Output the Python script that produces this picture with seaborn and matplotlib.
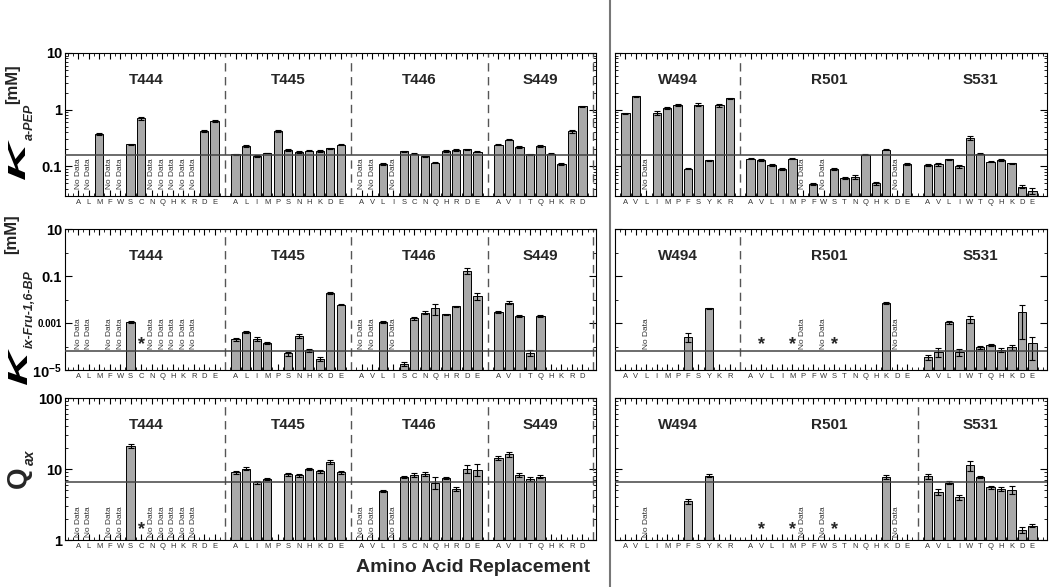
import numpy as np
import pandas as pd
import matplotlib
matplotlib.use("Agg")
import matplotlib.pyplot as plt
import matplotlib.ticker as mticker
import matplotlib.transforms as mtransforms
from matplotlib.lines import Line2D
from matplotlib.textpath import TextPath
from matplotlib.patches import PathPatch
from matplotlib.font_manager import FontProperties
import seaborn as sns

# ── DATA ───────────────────────────────────────────────
left_sites = ["T444", "T445", "T446", "S449"]
right_sites = ["W494", "R501", "S531"]

aa = {
    "T444": list("ALMFWSCNQHKRDE"),
    "T445": list("ALIMPSNHKDE"),
    "T446": list("AVLISCNQHRDE"),
    "S449": list("AVITQHKRD"),
    "W494": list("AVLIMPFSYKR"),
    "R501": list("AVLIMPFWSTNQHKDE"),
    "S531": list("AVLIWTQHKDE"),
}

# Ka-PEP [mM]
ka_val = {
    "T444": [None, None, 0.37, None, None, 0.245, 0.70, None, None, None, None, None, 0.42, 0.63],
    "T445": [0.163, 0.229, 0.152, 0.172, 0.42, 0.194, 0.179, 0.19, 0.184, 0.21, 0.24],
    "T446": [None, None, 0.11, None, 0.184, 0.168, 0.152, 0.116, 0.187, 0.194, 0.20, 0.18],
    "S449": [0.24, 0.297, 0.22, 0.163, 0.226, 0.168, 0.11, 0.417, 1.15],
    "W494": [0.857, 1.73, None, 0.88, 1.08, 1.23, 0.091, 1.23, 0.128, 1.19, 1.58],
    "R501": [0.137, 0.128, 0.105, 0.091, 0.137, None, 0.049, None, 0.09, 0.062, 0.065, 0.16, 0.05, 0.197, None, 0.11],
    "S531": [0.105, 0.108, 0.133, 0.10, 0.316, 0.168, 0.121, 0.128, 0.113, 0.044, 0.037],
}
ka_err = {
    "T444": [0, 0, 0.012, 0, 0, 0.006, 0.05, 0, 0, 0, 0, 0, 0.015, 0.02],
    "T445": [0.005, 0.005, 0.008, 0.003, 0.02, 0.005, 0.005, 0.005, 0.008, 0.005, 0.005],
    "T446": [0, 0, 0.003, 0, 0.005, 0.004, 0.003, 0.003, 0.005, 0.005, 0.005, 0.004],
    "S449": [0.004, 0.01, 0.008, 0.005, 0.008, 0.005, 0.003, 0.03, 0.03],
    "W494": [0.02, 0.04, 0, 0.07, 0.04, 0.05, 0.002, 0.06, 0.003, 0.08, 0.05],
    "R501": [0.003, 0.005, 0.004, 0.003, 0.003, 0, 0.002, 0, 0.003, 0.002, 0.004, 0.003, 0.003, 0.004, 0, 0.003],
    "S531": [0.003, 0.008, 0.004, 0.005, 0.03, 0.005, 0.004, 0.005, 0.003, 0.002, 0.004],
}
# n = "No Data", * = asterisk, . = nothing
ka_note = {
    "T444": "nn.nn..nnnnn..", "T445": "...........", "T446": "nn.n........",
    "S449": ".........", "W494": "..n........", "R501": ".....n.n......n.", "S531": "...........",
}

# Kix-Fru-1,6-BP [mM]
kix_val = {
    "T444": [None, None, None, None, None, 1.07e-3, None, None, None, None, None, None, None, None],
    "T445": [2.1e-4, 4.3e-4, 2.1e-4, 1.45e-4, None, 5.1e-5, 2.8e-4, 6.9e-5, 3.0e-5, 1.9e-2, 5.9e-3],
    "T446": [None, None, 1.15e-3, None, 1.85e-5, 1.6e-3, 2.7e-3, 4.3e-3, 2.3e-3, 5.1e-3, 0.17, 1.44e-2],
    "S449": [2.9e-3, 7.3e-3, 2.0e-3, 5.5e-5, 2.0e-3, None, None, None, None],
    "W494": [None, None, None, None, None, None, 2.6e-4, None, 4.2e-3, None, None],
    "R501": [None, None, None, None, None, None, None, None, None, None, None, None, None, 6.9e-3, None, None],
    "S531": [3.5e-5, 6.0e-5, 1.07e-3, 6.0e-5, 1.49e-3, 9.2e-5, 1.16e-4, 7.1e-5, 9.2e-5, 2.9e-3, 1.37e-4],
}
kix_err = {
    "T444": [0, 0, 0, 0, 0, 1e-4, 0, 0, 0, 0, 0, 0, 0, 0],
    "T445": [3e-5, 4e-5, 4e-5, 1.5e-5, 0, 1e-5, 5e-5, 8e-6, 5e-6, 1e-3, 3e-4],
    "T446": [0, 0, 1e-4, 0, 3e-6, 2.5e-4, 4e-4, 2.2e-3, 2e-4, 4e-4, 0.05, 5e-3],
    "S449": [3e-4, 1e-3, 2.5e-4, 1.5e-5, 2.5e-4, 0, 0, 0, 0],
    "W494": [0, 0, 0, 0, 0, 0, 1e-4, 0, 3e-4, 0, 0],
    "R501": [0, 0, 0, 0, 0, 0, 0, 0, 0, 0, 0, 0, 0, 6e-4, 0, 0],
    "S531": [8e-6, 2.5e-5, 1.5e-4, 2e-5, 5e-4, 1e-5, 1.5e-5, 1.5e-5, 2e-5, 2.7e-3, 1.1e-4],
}
kix_note = {
    "T444": "nn.nn.*nnnnn..", "T445": "...........", "T446": "nn.n........",
    "S449": ".........", "W494": "..n........", "R501": ".*..*n.n*.....n.", "S531": "...........",
}

# Qax
qax_val = {
    "T444": [None, None, None, None, None, 21.0, None, None, None, None, None, None, None, None],
    "T445": [9.0, 10.1, 6.5, 7.25, None, 8.4, 8.2, 10.1, 9.3, 12.6, 9.0],
    "T446": [None, None, 4.84, None, 7.65, 8.2, 8.5, 6.4, 7.5, 5.24, 10.1, 9.8],
    "S449": [14.4, 16.1, 8.2, 7.3, 7.8, None, None, None, None],
    "W494": [None, None, None, None, None, None, 3.54, None, 8.0, None, None],
    "R501": [None, None, None, None, None, None, None, None, None, None, None, None, None, 7.65, None, None],
    "S531": [7.9, 4.75, 6.4, 3.98, 11.3, 7.75, 5.5, 5.24, 5.1, 1.39, 1.6],
}
qax_err = {
    "T444": [0, 0, 0, 0, 0, 1.5, 0, 0, 0, 0, 0, 0, 0, 0],
    "T445": [0.5, 0.4, 0.3, 0.2, 0, 0.5, 0.4, 0.3, 0.5, 0.7, 0.4],
    "T446": [0, 0, 0.15, 0, 0.3, 0.6, 0.5, 1.2, 0.3, 0.3, 1.2, 1.8],
    "S449": [1.0, 1.3, 0.5, 0.5, 0.4, 0, 0, 0, 0],
    "W494": [0, 0, 0, 0, 0, 0, 0.3, 0, 0.4, 0, 0],
    "R501": [0, 0, 0, 0, 0, 0, 0, 0, 0, 0, 0, 0, 0, 0.5, 0, 0],
    "S531": [0.6, 0.4, 0.3, 0.3, 1.8, 0.3, 0.3, 0.4, 0.6, 0.15, 0.1],
}
qax_note = kix_note

# wild-type reference levels
ka_wt = 0.157
kix_wt = 6.5e-5
qax_wt = 6.5

# ── STYLE ──────────────────────────────────────────────
sns.set_style("ticks")
plt.rcParams["font.family"] = ["Liberation Sans", "DejaVu Sans"]
plt.rcParams["mathtext.fontset"] = "custom"
plt.rcParams["mathtext.rm"] = "Liberation Sans"
plt.rcParams["mathtext.it"] = "Liberation Sans:italic"
plt.rcParams["mathtext.bf"] = "Liberation Sans:bold"
plt.rcParams["axes.edgecolor"] = "black"
plt.rcParams["axes.linewidth"] = 0.8
plt.rcParams["xtick.color"] = "black"
plt.rcParams["ytick.color"] = "black"

W, H = 1050, 587
fig = plt.figure(figsize=(W / 100, H / 100), dpi=100)

bar_color = "#a9a9a9"


def add_ax(xpx, ypx):
    return fig.add_axes([xpx[0] / W, 1 - ypx[1] / H, (xpx[1] - xpx[0]) / W, (ypx[1] - ypx[0]) / H])


def draw_panel(ax, sites, vals, errs, notes, ylim, wt, dash_idx, xlim, note_y, star_y):
    rows, ticks, labels, marks, centers, gaps = [], [], [], [], [], []
    start = 0
    for s in sites:
        for i, letter in enumerate(aa[s]):
            p = start + i
            ticks.append(p)
            labels.append(letter)
            if vals[s][i] is not None:
                rows.append({"pos": p, "value": vals[s][i], "err": errs[s][i]})
            if notes[s][i] != ".":
                marks.append((p, notes[s][i]))
        centers.append(start + (len(aa[s]) - 1) / 2)
        start += len(aa[s])
        gaps.append(start)
        start += 1
    df = pd.DataFrame(rows)

    ax.set_yscale("log")
    sns.barplot(data=df, x="pos", y="value", native_scale=True, color=bar_color,
                saturation=1, edgecolor="black", linewidth=0.7, errorbar=None,
                width=0.8, ax=ax)
    ax.errorbar(df["pos"], df["value"], yerr=df["err"], fmt="none", ecolor="black",
                elinewidth=0.8, capsize=2, capthick=0.8, zorder=3)

    ax.axhline(wt, color="#444444", lw=1.1, zorder=4)
    for k in dash_idx:
        ax.axvline(gaps[k], color="#555555", lw=1.0, dashes=(6, 4), zorder=1)

    trans = mtransforms.blended_transform_factory(ax.transData, ax.transAxes)
    for p, m in marks:
        if m == "n":
            ax.text(p, note_y, "No Data", transform=trans, rotation=90, ha="center",
                    va="bottom", fontsize=6, color="#333333")
        else:
            ax.text(p, star_y, "*", transform=trans, ha="center", va="center",
                    fontsize=13, fontweight="bold")
    for s, c in zip(sites, centers):
        ax.text(c, 0.81, s, transform=trans, ha="center", va="center",
                fontsize=11, fontweight="bold")

    ax.set_xlim(*xlim)
    ax.set_ylim(*ylim)
    ax.set_xticks(ticks)
    ax.set_xticklabels(labels, fontsize=5.5, color="#333333")
    ax.xaxis.set_minor_locator(mticker.MultipleLocator(0.5))
    ax.tick_params(axis="x", which="major", direction="in", length=4, top=True, pad=2)
    ax.tick_params(axis="x", which="minor", direction="in", length=2, top=True)
    ax.tick_params(axis="y", which="major", direction="in", length=5, right=True, pad=2)
    ax.tick_params(axis="y", which="minor", direction="in", length=2.5, right=True)
    ax.set_xlabel("")
    ax.set_ylabel("")
    return ax


rows_px = [(53, 196), (229, 370), (398, 540)]
left_px = (65, 596)
right_px = (615, 1047)

row_specs = [
    (ka_val, ka_err, ka_note, (0.03, 10), ka_wt, [0.1, 1, 10], ["0.1", "1", "10"], None, 0.05, 0.18, [0]),
    (kix_val, kix_err, kix_note, (1e-5, 10), kix_wt, [1e-5, 1e-3, 0.1, 10],
     [r"$\mathbf{10^{-5}}$", "0.001", "0.1", "10"], [1e-4, 1e-2, 1], 0.15, 0.18, [0]),
    (qax_val, qax_err, qax_note, (1, 100), qax_wt, [1, 10, 100], ["1", "10", "100"], None, 0.02, 0.07, [1]),
]

for (vals, errs, notes, ylim, wt, yt, ytl, yminor, note_y, star_y, rdash), ypx in zip(row_specs, rows_px):
    axl = add_ax(left_px, ypx)
    draw_panel(axl, left_sites, vals, errs, notes, ylim, wt, [0, 1, 2, 3], (-1.25, 49.3), note_y, star_y)
    axr = add_ax(right_px, ypx)
    draw_panel(axr, right_sites, vals, errs, notes, ylim, wt, rdash, (-1.0, 40.4), note_y, star_y)
    for ax in (axl, axr):
        ax.yaxis.set_major_locator(mticker.FixedLocator(yt))
        if yminor is None:
            ax.yaxis.set_minor_locator(mticker.LogLocator(base=10, subs=np.arange(2, 10) * 1.0, numticks=20))
        else:
            ax.yaxis.set_minor_locator(mticker.FixedLocator(yminor))
        ax.yaxis.set_minor_formatter(mticker.NullFormatter())
    axl.set_yticklabels(ytl, fontsize=10.5, fontweight="bold")
    for lbl in axl.get_yticklabels():
        if lbl.get_text() == "0.001":
            lbl.set_fontsize(7)
    axr.tick_params(axis="y", labelleft=False)

# ── Y LABELS ───────────────────────────────────────────
fp_k = FontProperties(family="Liberation Sans", style="italic", weight="bold")


def stretched_letter(s, x_right, y_bottom_top, cap_px, len_px, fp):
    # letter drawn rotated 90 deg, stretched along its reading direction
    tp = TextPath((0, 0), s, size=100, prop=fp)
    bb = tp.get_extents()
    tr = (mtransforms.Affine2D().translate(-bb.x0, -bb.y0)
          .scale(len_px / bb.width, cap_px / bb.height)
          .rotate_deg(90).translate(x_right, H - y_bottom_top))
    path = tr.transform_path(tp)
    fig.add_artist(PathPatch(path, transform=mtransforms.Affine2D().scale(1 / 100.0) + fig.dpi_scale_trans,
                             facecolor="black", edgecolor="none"))


stretched_letter("K", 25, 180, 17, 40, fp_k)
fig.text(30 / W, 1 - 140 / H, "a-PEP", rotation=90, ha="center", va="bottom",
         fontsize=9, style="italic", fontweight="bold")
fig.text(13 / W, 1 - 104 / H, "[mM]", rotation=90, ha="center", va="bottom",
         fontsize=12, fontweight="bold")

stretched_letter("K", 27, 385, 19, 36, fp_k)
fig.text(30 / W, 1 - 348 / H, "ix-Fru-1,6-BP", rotation=90, ha="center", va="bottom",
         fontsize=9, style="italic", fontweight="bold")
fig.text(12 / W, 1 - 254 / H, "[mM]", rotation=90, ha="center", va="bottom",
         fontsize=12, fontweight="bold")

fig.text(19 / W, 1 - 488 / H, "Q", rotation=90, ha="center", va="bottom",
         fontsize=20, fontweight="bold")
fig.text(30 / W, 1 - 465 / H, "ax", rotation=90, ha="center", va="bottom",
         fontsize=10, style="italic", fontweight="bold")

# ── X LABEL AND SEPARATOR ──────────────────────────────
fig.text(590 / W, 1 - 567 / H, "Amino Acid Replacement", ha="right", va="center",
         fontsize=14, fontweight="bold")
fig.add_artist(Line2D([610 / W, 610 / W], [0, 1], transform=fig.transFigure,
                      color="#777777", lw=1.5))

fig.savefig("out.png", dpi=100)
